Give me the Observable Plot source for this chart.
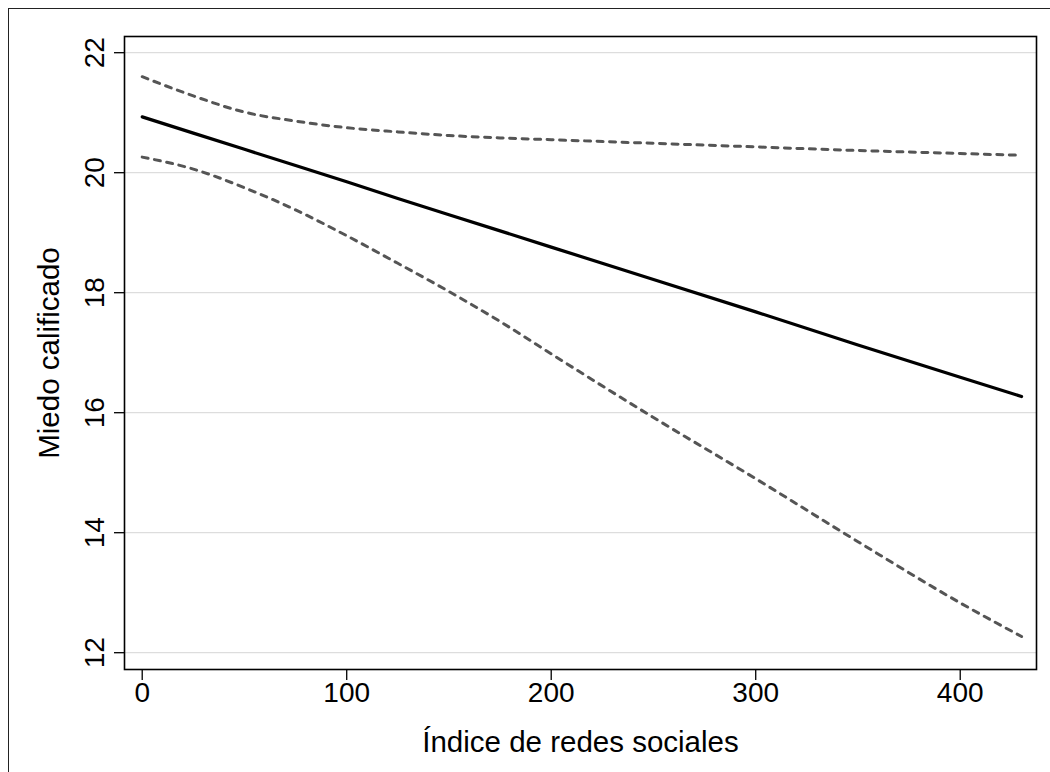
<!DOCTYPE html>
<html>
<head>
<meta charset="utf-8">
<script src="https://cdn.jsdelivr.net/npm/d3@7"></script>
<script src="https://cdn.jsdelivr.net/npm/@observablehq/plot@0.6"></script>
<style>
  html, body { margin: 0; padding: 0; background: #fff; overflow: hidden; }
  #wrap { position: relative; width: 1050px; height: 772px; overflow: hidden; }
  #border { position: absolute; left: 8px; top: 8px; width: 1100px; height: 820px; border: 1.5px solid #222; box-sizing: border-box; pointer-events: none; }
  #chart { position: absolute; left: 0; top: 0; }
</style>
</head>
<body>
<div id="wrap"><div id="border"></div><div id="chart"></div></div>
<script>
// Índice de redes sociales (x) and predicted "Miedo calificado" with 95% band
const xs    = [0, 25, 50, 75, 100, 125, 150, 175, 200, 250, 300, 350, 400, 430];
const pred  = [20.93, 20.66, 20.39, 20.12, 19.85, 19.57, 19.30, 19.03, 18.76, 18.22, 17.68, 17.13, 16.59, 16.27];
const lower = [20.26, 20.06, 19.75, 19.38, 18.95, 18.49, 18.02, 17.52, 16.98, 15.92, 14.90, 13.85, 12.83, 12.27];
const upper = [21.60, 21.28, 21.01, 20.86, 20.75, 20.68, 20.62, 20.58, 20.55, 20.49, 20.43, 20.37, 20.32, 20.29];
const xTicks = [0, 100, 200, 300, 400];
const yTicks = [12, 14, 16, 18, 20, 22];
const xTitle = "Índice de redes sociales";
const yTitle = "Miedo calificado";

const rows = xs.map((x, i) => ({x, pred: pred[i], lo: lower[i], hi: upper[i]}));
const font = "'Liberation Sans', Arial, Helvetica, sans-serif";
const dashGray = "#555555";

const chart = Plot.plot({
  width: 1050,
  height: 772,
  marginLeft: 124,
  marginRight: 14,
  marginTop: 36,
  marginBottom: 103,
  style: {fontFamily: font, background: "transparent", color: "#000"},
  x: {domain: [-8.66, 437.3], axis: null},
  y: {domain: [11.72, 22.27], axis: null},
  marks: [
    Plot.gridY(yTicks, {stroke: "#dddddd", strokeOpacity: 1, strokeWidth: 1.3}),
    Plot.axisY({ticks: yTicks, tickSize: 10, fill: "none", label: null, stroke: "#000", strokeWidth: 1.3}),
    Plot.axisX({ticks: xTicks, tickSize: 11, fill: "none", label: null, stroke: "#000", strokeWidth: 1.3}),
    Plot.text(yTicks, {y: d => d, text: d => String(d), frameAnchor: "left", dx: -29.7, rotate: -90, textAnchor: "middle", fontSize: 28, fill: "#000"}),
    Plot.text(xTicks, {x: d => d, text: d => String(d), frameAnchor: "bottom", dy: 32, textAnchor: "middle", fontSize: 28, fill: "#000"}),
    Plot.text([yTitle], {text: d => d, frameAnchor: "left", dx: -75, rotate: -90, textAnchor: "middle", fontSize: 29.5, fill: "#000"}),
    Plot.text([xTitle], {text: d => d, frameAnchor: "bottom", dy: 82, textAnchor: "middle", fontSize: 29.5, fill: "#000"}),
    Plot.line(rows, {x: "x", y: "hi", curve: "monotone-x", stroke: dashGray, strokeWidth: 3, strokeDasharray: "6,6.5", strokeLinecap: "round"}),
    Plot.line(rows, {x: "x", y: "lo", curve: "monotone-x", stroke: dashGray, strokeWidth: 3, strokeDasharray: "6,6.5", strokeLinecap: "round"}),
    Plot.line(rows, {x: "x", y: "pred", stroke: "#000", strokeWidth: 3.2}),
    Plot.frame({stroke: "#000", strokeWidth: 1.6})
  ]
});
document.getElementById("chart").appendChild(chart);
</script>
</body>
</html>
